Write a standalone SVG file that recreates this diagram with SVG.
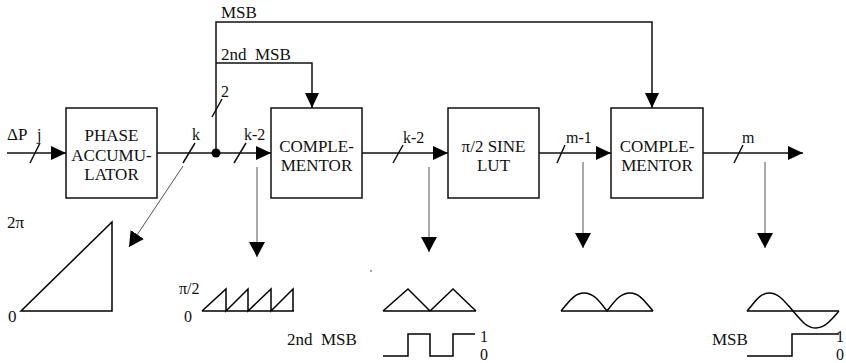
<svg xmlns="http://www.w3.org/2000/svg" width="846" height="363" viewBox="0 0 846 363" font-family="Liberation Serif, DejaVu Serif, serif">
<style>
.box{fill:#fff;stroke:#111;stroke-width:1.5}
.wire{fill:none;stroke:#111;stroke-width:1.5}
.thin{fill:none;stroke:#555;stroke-width:1}
.wave{fill:none;stroke:#000;stroke-width:1.5}
text{fill:#111}
.lbl{font-size:17px}
.sm{font-size:16px}
.c{text-anchor:middle}
</style>
<defs>
<marker id="ah" viewBox="0 0 15 14" refX="15" refY="7" markerWidth="15" markerHeight="14" markerUnits="userSpaceOnUse" orient="auto">
<path d="M0,0 L15,7 L0,14 z" fill="#000"/>
</marker>
<marker id="ahd" viewBox="0 0 15 16" refX="15" refY="8" markerWidth="15" markerHeight="16" markerUnits="userSpaceOnUse" orient="auto">
<path d="M0,0 L15,8 L0,16 z" fill="#000"/>
</marker>
</defs>

<g id="connectors">
<path class="wire" d="M7,153 L66,153" marker-end="url(#ah)"/>
<path class="wire" d="M157,153 L271,153" marker-end="url(#ah)"/>
<path class="wire" d="M216,153 L216,22 L652,22 L652,108" marker-end="url(#ah)"/>
<path class="wire" d="M216,63 L312,63 L312,108" marker-end="url(#ah)"/>
<path class="wire" d="M362,153 L448,153" marker-end="url(#ah)"/>
<path class="wire" d="M539,153 L611,153" marker-end="url(#ah)"/>
<path class="wire" d="M703,153 L803,153" marker-end="url(#ah)"/>
<circle cx="216" cy="153" r="4.5" fill="#000"/>
<path class="wire" stroke-width="1.2" d="M30,163 L40,143 M183,163 L195,143 M212,117 L222,99 M234,163 L246,143 M393,163 L403,145 M557,163 L565,145 M734,163 L743,145"/>
<path class="thin" d="M183,166 L129,247" marker-end="url(#ahd)"/>
<path class="thin" d="M257,167 L257,257" marker-end="url(#ahd)"/>
<path class="thin" d="M429,167 L429,252" marker-end="url(#ahd)"/>
<path class="thin" d="M583,162 L583,248" marker-end="url(#ahd)"/>
<path class="thin" d="M765,162 L765,248" marker-end="url(#ahd)"/>
<text class="lbl" x="7" y="140">ΔP</text>
<text class="sm" x="37" y="140">j</text>
<text class="sm" x="192" y="140">k</text>
<text class="sm" x="221" y="97">2</text>
<text class="sm" x="244" y="140">k-2</text>
<text class="sm" x="403" y="143">k-2</text>
<text class="sm" x="566" y="143">m-1</text>
<text class="sm" x="742" y="143">m</text>
<text class="lbl" x="221" y="18">MSB</text>
<text class="lbl" x="221" y="60" xml:space="preserve">2nd  MSB</text>
</g>

<g id="phase-accumulator">
<rect class="box" x="66" y="108" width="91" height="90"/>
<text class="lbl c" x="111.5" y="141">PHASE</text>
<text class="lbl c" x="111.5" y="161">ACCUMU-</text>
<text class="lbl c" x="111.5" y="180">LATOR</text>
</g>

<g id="complementor-1">
<rect class="box" x="271" y="108" width="91" height="90"/>
<text class="lbl c" x="316.5" y="152">COMPLE-</text>
<text class="lbl c" x="316.5" y="171">MENTOR</text>
</g>

<g id="sine-lut">
<rect class="box" x="448" y="108" width="91" height="90"/>
<text class="lbl c" x="493.5" y="152">π/2 SINE</text>
<text class="lbl c" x="493.5" y="171">LUT</text>
</g>

<g id="complementor-2">
<rect class="box" x="611" y="108" width="92" height="90"/>
<text class="lbl c" x="657" y="152">COMPLE-</text>
<text class="lbl c" x="657" y="171">MENTOR</text>
</g>

<g id="wave-ramp">
<path class="wave" d="M21,311 L112,311 L112,222 Z"/>
<text class="lbl" x="7" y="228">2π</text>
<text class="lbl" x="8" y="322">0</text>
</g>

<g id="wave-sawtooth">
<path class="wave" d="M202,311 L294,311 M202,311 L226,289 L226,311 L248,289 L248,311 L271,289 L271,311 L293,289 L293,311"/>
<text class="sm" x="179" y="294">π/2</text>
<text class="sm" x="184" y="322">0</text>
</g>

<g id="wave-triangle">
<path class="wave" d="M383,311 L476,311 M383,311 L408,289 L430,311 L453,289 L476,311"/>
<path class="wave" d="M383,356 L408,356 L408,334 L430,334 L430,356 L453,356 L453,334 L475,334"/>
<text class="lbl" x="287" y="345" xml:space="preserve">2nd  MSB</text>
<text class="sm" x="480" y="342">1</text>
<text class="sm" x="480" y="360">0</text>
<circle cx="371" cy="271" r="0.8" fill="#333"/>
</g>

<g id="wave-rectified">
<path class="wave" d="M561,311 L653,311"/>
<path class="wave" d="M561,311 C569,302 574,293 584,293 C594,293 600,302 607,311 C614,302 620,293 630,293 C640,293 645,302 653,311"/>
</g>

<g id="wave-sine">
<path class="wave" d="M747,311 L839,311"/>
<path class="wave" d="M747,311 C755,302 760,293 769,293 C779,293 785,302 793,311 C801,320 806,328 816,328 C825,328 831,320 839,311"/>
<path class="wave" d="M747,356 L792,356 L792,334 L839,334"/>
<text class="lbl" x="712" y="345">MSB</text>
<text class="sm" x="836" y="342">1</text>
<text class="sm" x="836" y="360">0</text>
</g>
</svg>
